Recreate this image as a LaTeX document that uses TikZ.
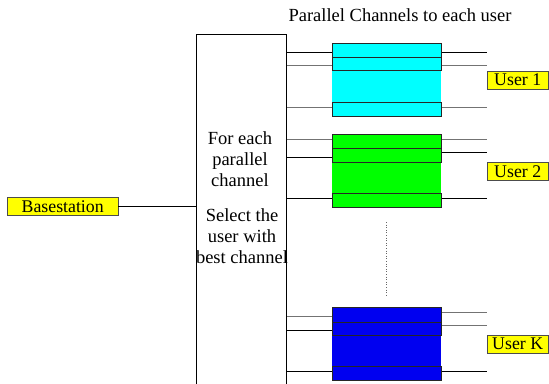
\documentclass[tikz,border=0pt]{standalone}
\usepackage{fontspec}
\setmainfont{Liberation Serif}
\definecolor{cyanc}{RGB}{0,255,255}
\definecolor{greenc}{RGB}{0,255,0}
\definecolor{bluec}{RGB}{0,0,240}
\definecolor{yellowc}{RGB}{255,255,0}
\begin{document}
\begin{tikzpicture}[x=1pt,y=-1pt,
  lbl/.style={draw=black!70,fill=yellowc,inner sep=0pt,minimum height=18pt,font=\fontsize{17.8}{18}\selectfont,anchor=north west},
  band/.style={draw=black!85,line width=0.8pt,minimum width=109pt,inner sep=0pt,anchor=north west},
  wire/.style={line width=0.8pt,black},
  gwire/.style={line width=0.8pt,black!55},
  txt/.style={font=\fontsize{18.5}{21}\selectfont,align=center,inner sep=0pt}]
\clip (0,0) rectangle (549,383);
% selection box
\node[draw=black,line width=0.8pt,minimum width=90pt,minimum height=380pt,inner sep=0pt,anchor=north west] (sel) at (196,34) {};
\node[txt,anchor=north] (t1) at (240,131) {For each\\parallel\\channel};
\node[txt,anchor=north] (t2) at (242,208) {Select the\\user with\\best channel};
\node[font=\fontsize{18.5}{20}\selectfont,anchor=base,inner sep=0pt] (title) at (400,21) {Parallel Channels to each user};
% basestation
\node[lbl,minimum width=111pt] (bs) at (7,197) {Basestation};
\draw[wire] (bs.east) -- (bs.east -| sel.west);
% blocks
\foreach \n/\c/\t/\a/\b/\cc in {1/cyanc/43/57/70/102, 2/greenc/134/148/162/193, 3/bluec/307/322/335/366}{
  \fill[\c] (332,\t) rectangle (441,\cc+14);
  \node[band,fill=\c,minimum height=\a-\t] (b\n a) at (332,\t) {};
  \node[band,fill=\c,minimum height=\b-\a] (b\n b) at (332,\a) {};
  \node[band,fill=\c,minimum height=14pt] (b\n c) at (332,\cc) {};
}
% user labels
\node[lbl,minimum width=61pt] (u1) at (487,71) {User 1};
\node[lbl,minimum width=61pt] (u2) at (487,162) {User 2};
\node[lbl,minimum width=61pt] (u3) at (487,335) {User K};
% wires block 1
\coordinate (r1) at (487,52); \coordinate (r2) at (487,65); \coordinate (r3) at (487,107);
\draw[wire] (sel.east |- 0,52) -- (b1a.west |- 0,52);
\draw[wire] (b1a.east |- r1) -- (r1);
\draw[gwire] (sel.east |- 0,65) -- (b1b.west |- 0,65);
\draw[gwire] (b1b.east |- r2) -- (r2);
\draw[gwire] (sel.east |- 0,107) -- (b1c.west |- 0,107);
\draw[gwire] (b1c.east |- r3) -- (r3);
% wires block 2
\coordinate (s1) at (487,139); \coordinate (s2) at (487,152); \coordinate (s3) at (487,198);
\draw[gwire] (sel.east |- 0,139) -- (b2a.west |- 0,139);
\draw[gwire] (b2a.east |- s1) -- (s1);
\draw[wire] (sel.east |- 0,157) -- (b2b.west |- 0,157);
\draw[wire] (b2b.east |- s2) -- (s2);
\draw[wire] (sel.east |- 0,198) -- (b2c.west |- 0,198);
\draw[wire] (b2c.east |- s3) -- (s3);
% wires block K
\coordinate (k1) at (487,312); \coordinate (k2) at (487,325); \coordinate (k3) at (487,371);
\draw[gwire] (sel.east |- 0,316) -- (b3a.west |- 0,316);
\draw[gwire] (b3a.east |- k1) -- (k1);
\draw[wire] (sel.east |- 0,330) -- (b3b.west |- 0,330);
\draw[gwire] (b3b.east |- k2) -- (k2);
\draw[wire] (sel.east |- 0,371) -- (b3c.west |- 0,371);
\draw[wire] (b3c.east |- k3) -- (k3);
% dots
\coordinate (d1) at (386,222); \coordinate (d2) at (386,296);
\draw[black!60,line width=0.6pt,dotted] (d1) -- (d2);
\end{tikzpicture}
\end{document}
